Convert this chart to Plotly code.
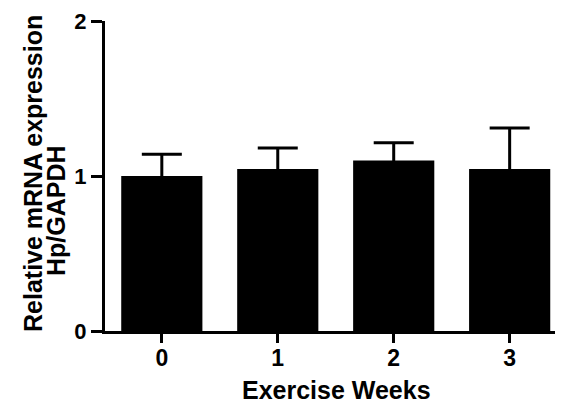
import plotly.graph_objects as go

categories = ["0", "1", "2", "3"]
means = [1.00, 1.045, 1.10, 1.045]
sem = [0.14, 0.135, 0.115, 0.265]
y_ticks = [0, 1, 2]

# the page body has an 8px margin, so the figure is drawn 8px smaller and
# every reference pixel position is shifted by -8
OFF = 8
W, H = 563 - OFF, 403 - OFF
L, R, T = 105 - OFF, 0, 21 - OFF
B = H - (331 - OFF)
pw, ph = W - L - R, H - T - B

def px_x(px):
    return (px - OFF - L) / pw

def px_y(py):
    return (H - B - (py - OFF)) / ph

FONT = "Liberation Sans, Arial, sans-serif"

fig = go.Figure()
fig.add_trace(go.Bar(
    x=[0, 1, 2, 3],
    y=means,
    width=0.70,
    marker=dict(color="black", line=dict(width=0)),
    error_y=dict(type="data", array=sem, symmetric=True,
                 color="black", thickness=3, width=20),
))

fig.update_layout(
    width=W, height=H,
    margin=dict(l=L, r=R, t=T, b=B),
    plot_bgcolor="white", paper_bgcolor="white",
    showlegend=False,
    xaxis=dict(
        range=[-0.49, 3.46],
        tickmode="array", tickvals=[0, 1, 2, 3], ticktext=categories,
        showline=True, linecolor="black", linewidth=3,
        ticks="outside", ticklen=9, tickwidth=3, tickcolor="black",
        ticklabelstandoff=-5,
        showgrid=False, zeroline=False,
        tickfont=dict(family=FONT, size=23, color="black", weight="bold"),
    ),
    yaxis=dict(
        range=[0, 2],
        tickmode="array", tickvals=y_ticks, ticktext=[str(v) for v in y_ticks],
        showline=True, linecolor="black", linewidth=3,
        ticks="outside", ticklen=11, tickwidth=3, tickcolor="black",
        showgrid=False, zeroline=False,
        tickfont=dict(family=FONT, size=22, color="black", weight="bold"),
    ),
    annotations=[
        dict(text="Exercise Weeks", xref="paper", yref="paper",
             x=px_x(336), y=px_y(390), xanchor="center", yanchor="middle",
             showarrow=False,
             font=dict(family=FONT, size=25, color="black", weight="bold")),
        dict(text="Relative mRNA expression", xref="paper", yref="paper",
             x=px_x(33), y=px_y(174), xanchor="center", yanchor="middle",
             textangle=-90, showarrow=False,
             font=dict(family=FONT, size=25, color="black", weight="bold")),
        dict(text="Hp/GAPDH", xref="paper", yref="paper",
             x=px_x(56), y=px_y(211), xanchor="center", yanchor="middle",
             textangle=-90, showarrow=False,
             font=dict(family=FONT, size=25, color="black", weight="bold")),
    ],
)

fig.write_html("out.html")
